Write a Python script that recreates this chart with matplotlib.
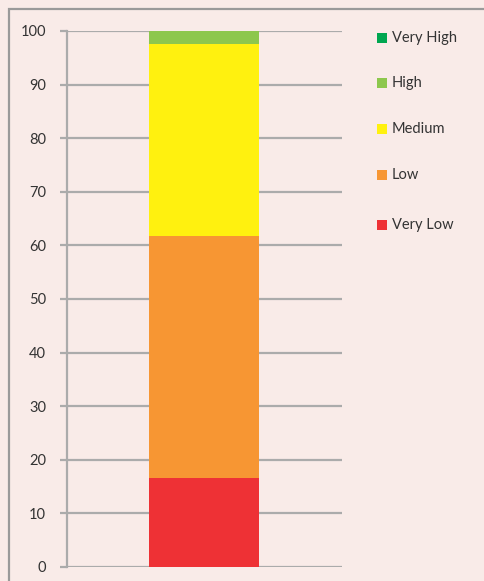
import matplotlib
matplotlib.use("Agg")
import matplotlib.pyplot as plt
from matplotlib.patches import Rectangle

categories = ["Very Low", "Low", "Medium", "High", "Very High"]
values = [16.6, 45.2, 35.7, 2.5, 0.0]
colors = ["#EE3135", "#F79633", "#FFF10F", "#8DC74D", "#00A650"]
yticks = [0, 10, 20, 30, 40, 50, 60, 70, 80, 90, 100]

bg = "#F9EBE8"
grid_c = "#ABABAB"
txt_c = "#333333"

plt.rcParams['font.family'] = ['Lato', 'DejaVu Sans']

fig = plt.figure(figsize=(4.85, 5.81), dpi=100, facecolor=bg)
ax = fig.add_axes([67/485, (581-567)/581, (342-67)/485, (567-31)/581])
ax.set_facecolor(bg)

bottom = 0
for cat, v, c in zip(categories, values, colors):
    ax.bar(0, v, width=0.4, bottom=bottom, color=c, zorder=3)
    bottom += v

ax.set_xlim(-0.5, 0.5)
ax.set_ylim(0, 100)
ax.set_yticks(yticks)
ax.set_yticklabels([str(t) for t in yticks])
ax.set_xticks([])
ax.yaxis.grid(True, color=grid_c, linewidth=1.6, zorder=1)
ax.set_axisbelow(True)
for s in ["top", "right", "bottom"]:
    ax.spines[s].set_visible(False)
ax.spines["left"].set_color(grid_c)
ax.spines["left"].set_linewidth(1.6)
ax.tick_params(axis="y", length=5, width=1.6, color=grid_c, labelsize=10.5,
               labelcolor=txt_c, pad=10)

# outer frame
fig.patches.append(Rectangle((9/485, -0.05), 1.2, (581-9)/581 + 0.05,
                             transform=fig.transFigure, fill=False,
                             edgecolor="#9A9A9A", linewidth=1.6))

# legend (top to bottom: Very High ... Very Low)
legend_y = [38, 83, 129, 175, 225]
for (cat, c), yp in zip(list(zip(categories, colors))[::-1], legend_y):
    fy = 1 - yp/581
    fig.patches.append(Rectangle((377/485, fy - 5/581), 10/485, 10/581,
                                 transform=fig.transFigure, facecolor=c,
                                 edgecolor="none"))
    fig.text(392/485, fy, cat, fontsize=10.5, color=txt_c, va="center", ha="left")

fig.savefig("out.png", dpi=100, facecolor=bg)
